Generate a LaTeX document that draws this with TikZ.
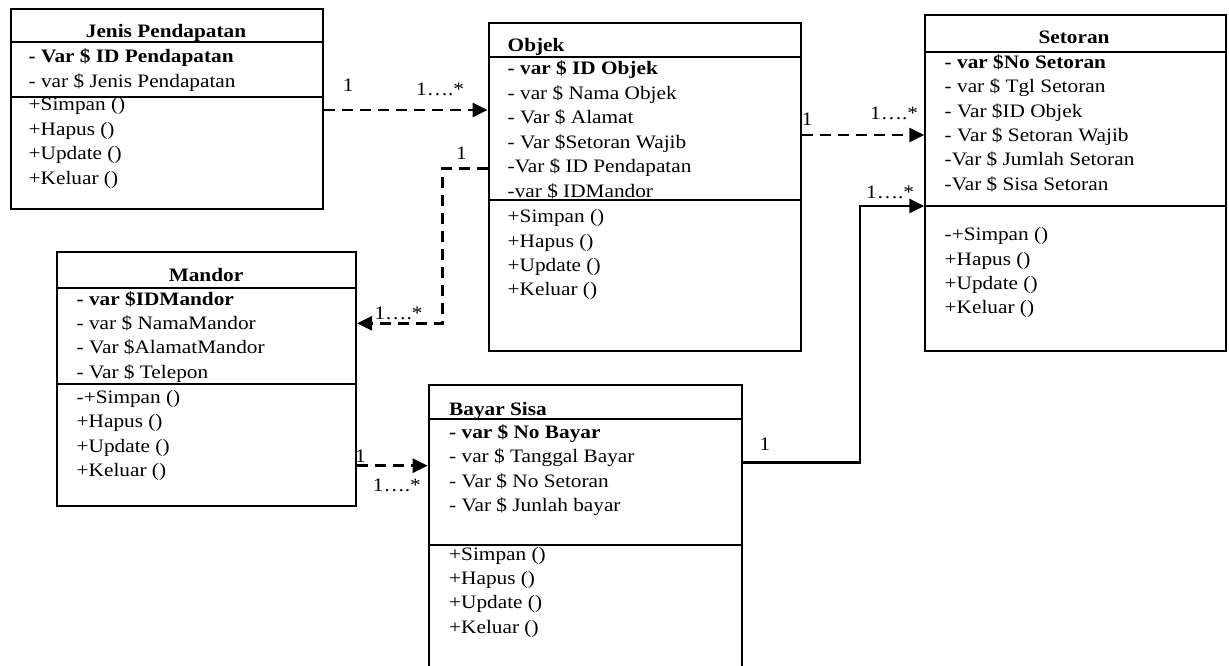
\documentclass[tikz,border=0pt]{standalone}
\usepackage{fontspec}
\setmainfont[FakeStretch=1.12]{Liberation Serif}
\usetikzlibrary{arrows.meta}

\tikzset{
  classbox/.style={draw, line width=2pt, inner sep=0pt, anchor=north west},
  sepline/.style={line width=2pt},
  txt/.style={font=\fontsize{19}{24.4}\selectfont, inner sep=0pt, anchor=base west},
  ttl/.style={font=\fontsize{19}{24.4}\selectfont\bfseries, inner sep=0pt, anchor=base},
  ttlleft/.style={ttl, anchor=base west},
  mult/.style={font=\fontsize{19}{24.4}\selectfont, inner sep=0pt, anchor=base west},
  dep/.style={line width=2.8pt, dash pattern=on 11pt off 7pt, -{Triangle[length=15pt,width=14pt]}},
  assoc/.style={line width=2.5pt, -{Triangle[length=15pt,width=14pt]}},
}

% one text row per list item, stacked at a fixed line pitch
\newcommand\classrows[4]{%
  \foreach \s [count=\i from 0] in {#4}
    \node[txt] (#1\i) at (#2, {#3+\i*24.4}) {\s};
}

\begin{document}
\begin{tikzpicture}[x=1pt,y=-1pt]
\useasboundingbox (0,0) rectangle (1229,666);
\clip (0,0) rectangle (1229,666);

% ---------- class boxes ----------
\node[classbox, minimum width=312pt,   minimum height=200pt]   (jenis)   at (10,8) {};
\node[classbox, minimum width=312.5pt, minimum height=328.3pt] (objek)   at (487.5,21.7) {};
\node[classbox, minimum width=300.2pt, minimum height=336pt]   (setoran) at (924.3,14) {};
\node[classbox, minimum width=299pt,   minimum height=254.3pt] (mandor)  at (56,250.7) {};
\node[classbox, minimum width=312.8pt, minimum height=320pt]   (bayar)   at (427.7,384) {};

% compartment separators
\draw[sepline] (jenis.west |- 0,42)     -- (jenis.east |- 0,42);
\draw[sepline] (jenis.west |- 0,97)     -- (jenis.east |- 0,97);
\draw[sepline] (objek.west |- 0,57.3)   -- (objek.east |- 0,57.3);
\draw[sepline] (objek.west |- 0,200)    -- (objek.east |- 0,200);
\draw[sepline] (setoran.west |- 0,52.3) -- (setoran.east |- 0,52.3);
\draw[sepline] (setoran.west |- 0,206)  -- (setoran.east |- 0,206);
\draw[sepline] (mandor.west |- 0,288.3) -- (mandor.east |- 0,288.3);
\draw[sepline] (mandor.west |- 0,384.3) -- (mandor.east |- 0,384.3);
\draw[sepline] (bayar.west |- 0,419.3)  -- (bayar.east |- 0,419.3);
\draw[sepline] (bayar.west |- 0,545)    -- (bayar.east |- 0,545);

% ---------- Jenis Pendapatan ----------
\node[ttl] (jenis-t) at (166,38) {Jenis Pendapatan};
\classrows{jenis-a}{28.5}{63}{{\textbf{- Var \$ ID Pendapatan}},{- var \$ Jenis Pendapatan}}
\classrows{jenis-m}{28.5}{111}{{+Simpan ()},{+Hapus ()},{+Update ()},{+Keluar ()}}

% ---------- Objek ----------
\node[ttlleft] (objek-t) at (507.5,51.7) {Objek};
\classrows{objek-a}{507.5}{75}{{\textbf{- var \$ ID Objek}},{- var \$ Nama Objek},{- Var \$ Alamat},{- Var \$Setoran Wajib},{-Var \$ ID Pendapatan},{-var \$ IDMandor}}
\classrows{objek-m}{507.5}{222.7}{{+Simpan ()},{+Hapus ()},{+Update ()},{+Keluar ()}}

% ---------- Setoran ----------
\node[ttl] (setoran-t) at (1074,43.3) {Setoran};
\classrows{setoran-a}{944.5}{68.3}{{\textbf{- var \$No Setoran}},{- var \$ Tgl Setoran},{- Var \$ID Objek},{- Var \$ Setoran Wajib},{-Var \$ Jumlah Setoran},{-Var \$ Sisa Setoran}}
\classrows{setoran-m}{944.5}{240.7}{{-+Simpan ()},{+Hapus ()},{+Update ()},{+Keluar ()}}

% ---------- Mandor ----------
\node[ttl] (mandor-t) at (206,281.7) {Mandor};
\classrows{mandor-a}{76.5}{305}{{\textbf{- var \$IDMandor}},{- var \$ NamaMandor},{- Var \$AlamatMandor},{- Var \$ Telepon}}
\classrows{mandor-m}{76.5}{403.3}{{-+Simpan ()},{+Hapus ()},{+Update ()},{+Keluar ()}}

% ---------- Bayar Sisa ----------
\node[ttlleft] (bayar-t) at (449,415) {Bayar Sisa};
\classrows{bayar-a}{449}{438.3}{{\textbf{- var \$ No Bayar}},{- var \$ Tanggal Bayar},{- Var \$ No Setoran},{- Var \$ Junlah bayar}}
\classrows{bayar-m}{449}{560}{{+Simpan ()},{+Hapus ()},{+Update ()},{+Keluar ()}}

% ---------- relations ----------
\draw[dep] (jenis.east |- 0,110) -- (objek.west |- 0,110);
\node[mult] (jo-1) at (342.7,91.7) {1};
\node[mult] (jo-n) at (416,96) {1….*};

\draw[dep] (objek.west |- 0,168.3) -- (442.3,168.3) -- (442.3,323.3) -- (mandor.east |- 0,323.3);
\node[mult] (om-1) at (456,160) {1};
\node[mult] (om-n) at (374.4,319.3) {1….*};

\draw[dep] (objek.east |- 0,135) -- (setoran.west |- 0,135);
\node[mult] (os-1) at (801.7,126) {1};
\node[mult] (os-n) at (870,120) {1….*};

\draw[dep] (mandor.east |- 0,465.7) -- (bayar.west |- 0,465.7);
\node[mult] (mb-1) at (355,462.7) {1};
\node[mult] (mb-n) at (372.7,491.7) {1….*};

\draw[assoc] (bayar.east |- 0,462.7) -- (860,462.7) -- (860,206) -- (setoran.west |- 0,206);
\node[mult] (bs-1) at (759.4,450) {1};
\node[mult] (bs-n) at (866,198) {1….*};

\end{tikzpicture}
\end{document}
